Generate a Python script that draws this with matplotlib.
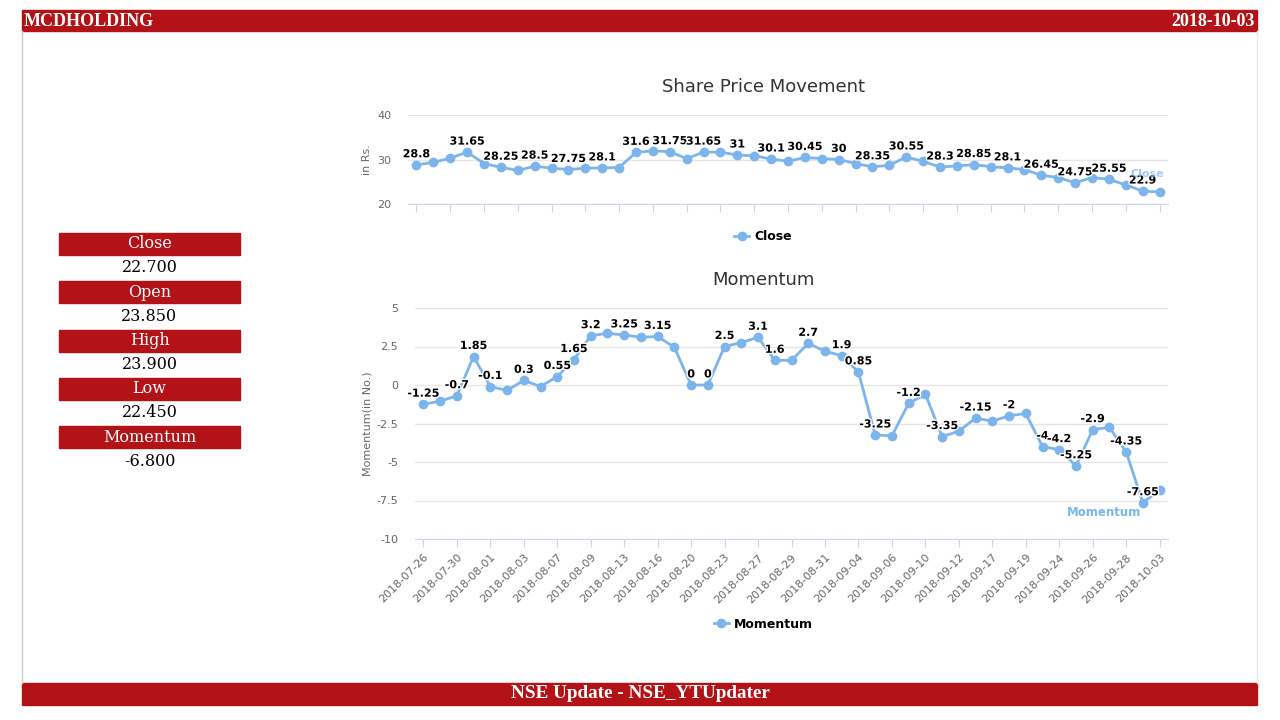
import matplotlib.pyplot as plt
from matplotlib.lines import Line2D
from matplotlib.patches import Rectangle
import matplotlib.patheffects as pe

plt.rcParams['axes.unicode_minus'] = False

# Data
dates = ["2018-07-26", "2018-07-27", "2018-07-30", "2018-07-31", "2018-08-01",
         "2018-08-02", "2018-08-03", "2018-08-06", "2018-08-07", "2018-08-08",
         "2018-08-09", "2018-08-10", "2018-08-13", "2018-08-14", "2018-08-16",
         "2018-08-17", "2018-08-20", "2018-08-21", "2018-08-23", "2018-08-24",
         "2018-08-27", "2018-08-28", "2018-08-29", "2018-08-30", "2018-08-31",
         "2018-09-03", "2018-09-04", "2018-09-05", "2018-09-06", "2018-09-07",
         "2018-09-10", "2018-09-11", "2018-09-12", "2018-09-14", "2018-09-17",
         "2018-09-18", "2018-09-19", "2018-09-21", "2018-09-24", "2018-09-25",
         "2018-09-26", "2018-09-27", "2018-09-28", "2018-10-01", "2018-10-03"]

close = [28.8, 29.35, 30.3, 31.65, 29.1, 28.25, 27.55, 28.5, 28.05, 27.75,
         28.05, 28.1, 28.2, 31.6, 31.95, 31.75, 30.2, 31.65, 31.65, 31.0,
         30.85, 30.1, 29.6, 30.45, 30.2, 30.0, 29.1, 28.35, 28.7, 30.55,
         29.6, 28.3, 28.55, 28.85, 28.4, 28.1, 27.75, 26.45, 25.95, 24.75,
         25.95, 25.55, 24.3, 22.9, 22.7]

momentum = [-1.25, -1.05, -0.7, 1.85, -0.1, -0.35, 0.3, -0.1, 0.55, 1.65,
            3.2, 3.35, 3.25, 3.1, 3.15, 2.45, 0.0, 0.0, 2.5, 2.75,
            3.1, 1.6, 1.6, 2.7, 2.2, 1.9, 0.85, -3.25, -3.3, -1.2,
            -0.6, -3.35, -3.0, -2.15, -2.35, -2.0, -1.85, -4.0, -4.2, -5.25,
            -2.9, -2.75, -4.35, -7.65, -6.8]

# data labels that are visible in the chart (others hidden by overlap)
close_shown = [0, 3, 5, 7, 9, 11, 13, 15, 17, 19, 21, 23, 25, 27, 29, 31,
               33, 35, 37, 39, 41, 43]
momentum_shown = [0, 2, 3, 4, 6, 8, 9, 10, 12, 14, 16, 17, 18, 20, 21, 23,
                  25, 26, 27, 29, 31, 33, 35, 37, 38, 39, 40, 42, 43]

stats_names = ["Close", "Open", "High", "Low", "Momentum"]
stats_values = [22.700, 23.850, 23.900, 22.450, -6.800]

symbol = "MCDHOLDING"
report_date = "2018-10-03"
footer = "NSE Update - NSE_YTUpdater"

RED = "#b31217"
BLUE = "#7cb5ec"
W, H = 1280, 720


def fx(x):
    return x / W


def fy(y):
    return 1 - y / H


def rect(fig, x0, y0, x1, y1, color):
    fig.patches.append(Rectangle((fx(x0), fy(y1)), fx(x1 - x0), (y1 - y0) / H,
                                 transform=fig.transFigure, color=color, zorder=0))


def style_axes(ax):
    for s in ["top", "right", "left"]:
        ax.spines[s].set_visible(False)
    ax.spines["bottom"].set_color("#ccd6eb")
    ax.grid(axis="y", color="#e6e6e6", linewidth=1)
    ax.set_axisbelow(True)
    ax.tick_params(axis="y", length=0, labelsize=8, labelcolor="#666666", pad=12)
    ax.tick_params(axis="x", length=6, color="#ccd6eb", labelsize=8, labelcolor="#666666")


def draw_series(ax, values, shown):
    x = list(range(len(values)))
    ax.plot(x, values, color=BLUE, linewidth=2, marker="o", markersize=6, zorder=3)
    for i in shown:
        ax.annotate(f"{values[i]:g}", (i, values[i]), xytext=(0, 4),
                    textcoords="offset points", ha="center", va="bottom",
                    fontsize=8, fontweight="bold", color="black", zorder=4,
                    path_effects=[pe.withStroke(linewidth=2, foreground="white")])
    ax.set_xlim(-0.5, len(values) - 0.5)
    ax.set_xticks(x[::2])


fig = plt.figure(figsize=(12.8, 7.2), dpi=100)

# frame, header and footer
fig.add_artist(Line2D([fx(22), fx(22)], [fy(31), fy(683)], color="#cccccc", linewidth=1))
fig.add_artist(Line2D([fx(1257), fx(1257)], [fy(31), fy(683)], color="#e8e8e8", linewidth=1))
rect(fig, 22, 10, 1257, 31, RED)
rect(fig, 22, 683, 1257, 705, RED)
fig.text(fx(24), fy(21), symbol, color="white", fontsize=13, fontweight="bold",
         family="Liberation Serif", va="center", ha="left")
fig.text(fx(1255), fy(21), report_date, color="white", fontsize=13, fontweight="bold",
         family="Liberation Serif", va="center", ha="right")
fig.text(fx(640), fy(694), footer, color="white", fontsize=13.8, fontweight="bold",
         family="Liberation Serif", va="center", ha="center")

# left stats panel
for k, (name, val) in enumerate(zip(stats_names, stats_values)):
    top = 233 + k * 48.3
    rect(fig, 59, top, 240, top + 22, RED)
    fig.text(fx(149.5), fy(top + 11), name, color="white", fontsize=11.5,
             family="DejaVu Serif", ha="center", va="center")
    fig.text(fx(149.5), fy(top + 35), f"{val:.3f}", color="black", fontsize=11.5,
             family="DejaVu Serif", ha="center", va="center")

# Share price chart
ax1 = fig.add_axes([fx(408), fy(204), fx(1168 - 408), (204 - 115) / H])
draw_series(ax1, close, close_shown)
style_axes(ax1)
ax1.set_ylim(20, 40)
ax1.set_yticks([20, 30, 40])
ax1.set_xticklabels([])
ax1.set_ylabel("in Rs.", fontsize=8, color="#666666", labelpad=4)
fig.text(fx(1147), fy(174), "Close", color=BLUE, fontsize=8, fontweight="bold",
         ha="center", va="center", alpha=0.7)
fig.text(fx(763), fy(87), "Share Price Movement", fontsize=13, color="#333333",
         ha="center", va="center")
fig.legend(handles=[Line2D([], [], color=BLUE, linewidth=2, marker="o", markersize=6)],
           labels=["Close"], loc="center", bbox_to_anchor=(fx(763), fy(237)),
           frameon=False, handlelength=1.2, handletextpad=0.4,
           prop={"weight": "bold", "size": 9})

# Momentum chart
ax2 = fig.add_axes([fx(415), fy(539), fx(1168 - 415), (539 - 308) / H])
draw_series(ax2, momentum, momentum_shown)
style_axes(ax2)
ax2.set_ylim(-10, 5)
yt = [5, 2.5, 0, -2.5, -5, -7.5, -10]
ax2.set_yticks(yt)
ax2.set_yticklabels([f"{v:g}" for v in yt])
ax2.set_xticklabels(dates[::2], rotation=45, ha="right", rotation_mode="anchor")
ax2.set_ylabel("Momentum(in No.)", fontsize=8, color="#666666", labelpad=3)
fig.text(fx(1104), fy(513), "Momentum", color=BLUE, fontsize=8.5, fontweight="bold",
         ha="center", va="center")
fig.text(fx(763), fy(280), "Momentum", fontsize=13, color="#333333",
         ha="center", va="center")
fig.legend(handles=[Line2D([], [], color=BLUE, linewidth=2, marker="o", markersize=6)],
           labels=["Momentum"], loc="center", bbox_to_anchor=(fx(763), fy(624)),
           frameon=False, handlelength=1.2, handletextpad=0.4,
           prop={"weight": "bold", "size": 9})

fig.savefig("out.png", dpi=100)
